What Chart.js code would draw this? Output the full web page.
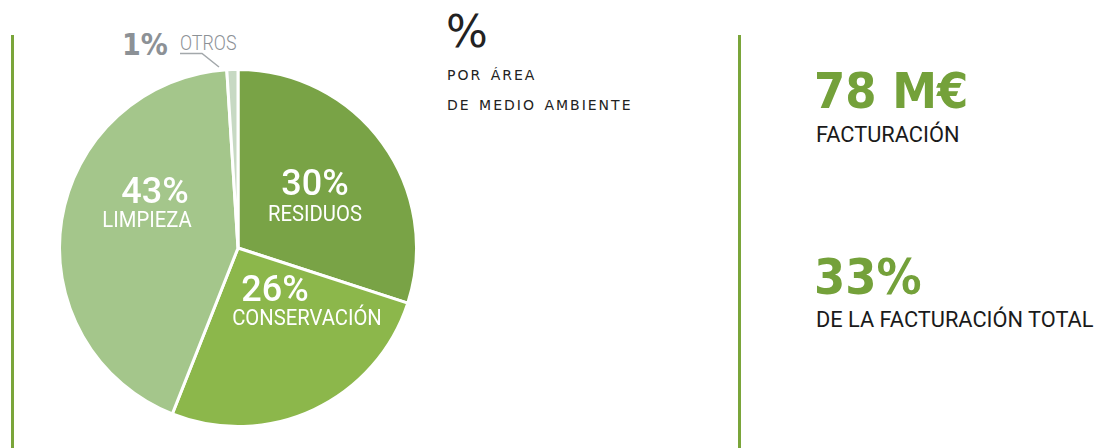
<!DOCTYPE html>
<html>
<head>
<meta charset="utf-8">
<script src="https://cdn.jsdelivr.net/npm/chart.js@4"></script>
<style>
  body { margin: 0; width: 1096px; height: 448px; background: #fff; position: relative; overflow: hidden; font-family: "DejaVu Sans", sans-serif; }
  .vline { position: absolute; top: 35px; width: 3px; height: 413px; background: #7aa53a; }
  #pie-box { position: absolute; left: 58px; top: 68px; width: 360px; height: 360px; }
  .t { position: absolute; white-space: nowrap; line-height: 1; }
  .num { color: #fff; font-family: "Roboto", sans-serif; font-weight: 500; font-size: 36px; transform: translateX(-50%); }
  .cat { color: #fff; font-family: "Roboto", sans-serif; font-size: 22px; transform: translateX(-50%) scaleX(0.92); }
  .big { font-family: "DejaVu Sans Condensed", "DejaVu Sans", sans-serif; font-weight: bold; font-size: 50px; color: #74a13a; }
  .sub { font-family: "Roboto", sans-serif; font-size: 22px; color: #1a1a1a; transform: scaleX(0.99); transform-origin: left top; }
  .tit { font-size: 14px; letter-spacing: 2px; word-spacing: 2px; color: #222; }
</style>
</head>
<body>
<div class="vline" style="left:11px"></div>
<div class="vline" style="left:738px"></div>

<div id="pie-box"><canvas id="pie"></canvas></div>

<!-- etiquetas dentro del pastel -->
<div class="t num" style="left:315px;top:165px">30%</div>
<div class="t cat" style="left:315px;top:203px">RESIDUOS</div>
<div class="t num" style="left:275px;top:271px">26%</div>
<div class="t cat" style="left:307px;top:307px">CONSERVACIÓN</div>
<div class="t num" style="left:155px;top:173px">43%</div>
<div class="t cat" style="left:147px;top:209px">LIMPIEZA</div>

<!-- etiqueta de otros -->
<div class="t" style="left:122px;top:30px;color:#8c9196;font-family:'DejaVu Sans Condensed','DejaVu Sans';font-weight:bold;font-size:30px">1%</div>
<div class="t" style="left:180px;top:33px;color:#8c9196;font-family:'Roboto';font-weight:300;font-size:21px;transform:scaleX(0.85);transform-origin:left top">OTROS</div>
<svg style="position:absolute;left:0;top:0" width="260" height="80"><polyline points="180,53.5 202,53.5 219,67" fill="none" stroke="#a3a8ab" stroke-width="1.5"/></svg>

<!-- titulo central -->
<div class="t" style="left:446px;top:10px;font-size:44px;color:#222">%</div>
<div class="t tit" style="left:447px;top:68px">POR ÁREA</div>
<div class="t tit" style="left:447px;top:98px">DE MEDIO AMBIENTE</div>

<!-- cifras a la derecha -->
<div class="t big" style="left:814px;top:66px">78 M€</div>
<div class="t sub" style="left:816px;top:124px">FACTURACIÓN</div>
<div class="t big" style="left:814px;top:252px">33%</div>
<div class="t sub" style="left:816px;top:309px">DE LA FACTURACIÓN TOTAL</div>

<script>
// Datos del gráfico
var categorias = ['Residuos', 'Conservación', 'Limpieza', 'Otros'];
var porcentajes = [30, 26, 43, 1];
var colores = ['#79a346', '#8cb74b', '#a4c68b', '#c7d9c3'];

var ctx = document.getElementById('pie').getContext('2d');
var chartPie = new Chart(ctx, {
    type: 'pie',
    data: {
        labels: categorias,
        datasets: [{
            data: porcentajes,
            backgroundColor: colores,
            borderColor: '#ffffff',
            borderWidth: 3
        }]
    },
    options: {
        responsive: true,
        maintainAspectRatio: false,
        animation: false,
        layout: { padding: 0 },
        plugins: {
            legend: { display: false },
            tooltip: { enabled: false }
        }
    }
});
</script>
</body>
</html>
